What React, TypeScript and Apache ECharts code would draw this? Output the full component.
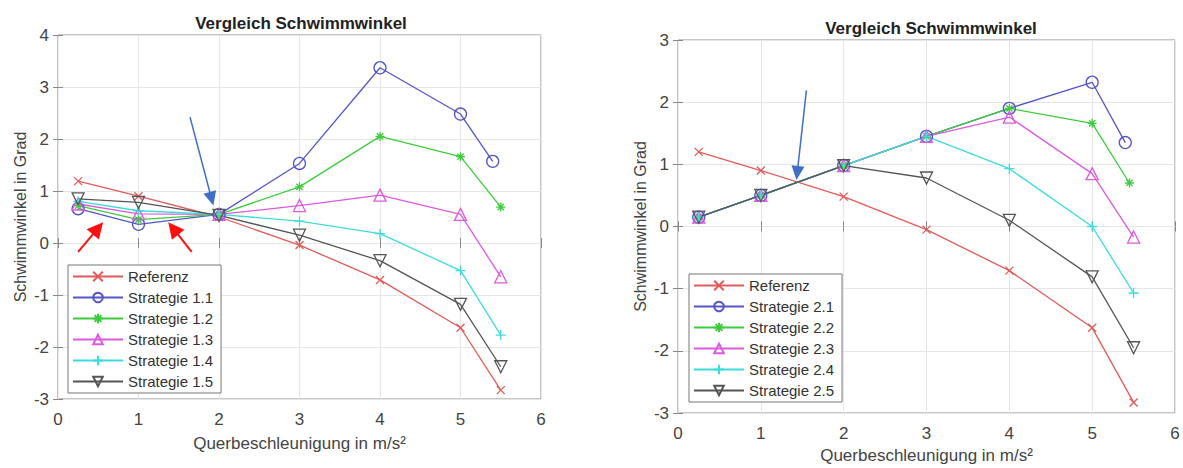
import React, { useEffect, useRef } from "react";
import * as echarts from "echarts";

// ---------- data ----------
const title = "Vergleich Schwimmwinkel";
const xName = "Querbeschleunigung in m/s²";
const yName = "Schwimmwinkel in Grad";

const xTicksLeft = { min: 0, max: 6, interval: 1 };
const yTicksLeft = { min: -3, max: 4, interval: 1 };
const xTicksRight = { min: 0, max: 6, interval: 1 };
const yTicksRight = { min: -3, max: 3, interval: 1 };

const xStd = [0.25, 1, 2, 3, 4, 5, 5.5];
const xS1 = [0.25, 1, 2, 3, 4, 5, 5.4];
const xS2 = [0.25, 1, 2, 3, 4, 5, 5.45];

const namesLeft = ["Referenz", "Strategie 1.1", "Strategie 1.2", "Strategie 1.3", "Strategie 1.4", "Strategie 1.5"];
const namesRight = ["Referenz", "Strategie 2.1", "Strategie 2.2", "Strategie 2.3", "Strategie 2.4", "Strategie 2.5"];

const ref1 = [1.19, 0.9, 0.5, -0.04, -0.71, -1.63, -2.83];
const s11 = [0.66, 0.36, 0.55, 1.53, 3.37, 2.48, 1.57];
const s12 = [0.72, 0.45, 0.55, 1.08, 2.05, 1.66, 0.69];
const s13 = [0.75, 0.56, 0.55, 0.72, 0.92, 0.55, -0.65];
const s14 = [0.8, 0.62, 0.55, 0.42, 0.18, -0.53, -1.77];
const s15 = [0.85, 0.78, 0.53, 0.15, -0.34, -1.18, -2.38];

const ref2 = [1.2, 0.9, 0.48, -0.05, -0.71, -1.63, -2.83];
const s21 = [0.15, 0.5, 0.98, 1.45, 1.9, 2.32, 1.35];
const s22 = [0.15, 0.5, 0.98, 1.45, 1.9, 1.66, 0.7];
const s23 = [0.15, 0.5, 0.98, 1.45, 1.76, 0.85, -0.17];
const s24 = [0.15, 0.5, 0.98, 1.45, 0.93, 0.0, -1.07];
const s25 = [0.15, 0.5, 0.98, 0.78, 0.1, -0.81, -1.95];

// annotation arrows in data coordinates: [startX, startY, tipX, tipY]
const arrowsLeftBlue = [[1.64, 2.42, 1.93, 0.72]];
const arrowsLeftRed = [
  [0.25, -0.17, 0.56, 0.4],
  [1.66, -0.17, 1.37, 0.4],
];
const arrowsRightBlue = [[1.55, 2.19, 1.43, 0.75]];

// ---------- styles ----------
const FONT = "Liberation Sans, Arial, sans-serif";
const colors = ["#e25a5a", "#5555c8", "#3ccc3c", "#dc5adc", "#3cdcdc", "#555555"];
const symbols = [
  "path://M0,0L1,1M1,0L0,1",
  "circle",
  "path://M0.5,0L0.5,1M0,0.5L1,0.5M0.15,0.15L0.85,0.85M0.85,0.15L0.15,0.85",
  "triangle",
  "path://M0.5,0L0.5,1M0,0.5L1,0.5",
  "path://M0,0L1,0L0.5,1Z",
];
const symbolSizes = [8, 12, 9, 12, 10, 12];

function zip(xs: number[], ys: number[]) {
  return xs.map((x, i) => [x, ys[i]]);
}

function makeSeries(name: string, idx: number, data: number[][], grid: number) {
  return {
    type: "line",
    name,
    xAxisIndex: grid * 2,
    yAxisIndex: grid * 2,
    data,
    symbol: symbols[idx],
    symbolSize: symbolSizes[idx],
    showAllSymbol: true,
    lineStyle: { color: colors[idx], width: 1.3 },
    itemStyle: {
      color: idx === 2 ? colors[idx] : "rgba(0,0,0,0)",
      borderColor: colors[idx],
      borderWidth: 1.3,
    },
    emphasis: { disabled: true },
    z: 3,
  };
}

function axesFor(gridIndex: number, xr: any, yr: any) {
  const axisLabel = { fontFamily: FONT, fontSize: 17, color: "#444" };
  const tick = { show: true, inside: true, length: 5, lineStyle: { color: "#888" } };
  const xAxes = [
    {
      type: "value",
      gridIndex,
      ...xr,
      position: "bottom",
      name: xName,
      nameLocation: "middle",
      nameGap: gridIndex === 0 ? 36 : 34,
      nameTextStyle: { fontFamily: FONT, fontSize: 17, color: "#444" },
      axisLine: { show: false },
      axisTick: tick,
      axisLabel: { ...axisLabel, margin: 12 },
      splitLine: { show: true, lineStyle: { color: "#e6e6e6", width: 1 } },
    },
    {
      type: "value",
      gridIndex,
      ...xr,
      position: "top",
      axisLine: { show: false },
      axisTick: tick,
      axisLabel: { show: false },
      splitLine: { show: false },
    },
  ];
  const yAxes = [
    {
      type: "value",
      gridIndex,
      ...yr,
      position: "left",
      name: yName,
      nameLocation: "middle",
      nameGap: 30,
      nameTextStyle: { fontFamily: FONT, fontSize: 16, color: "#444" },
      axisLine: { show: false },
      axisTick: tick,
      axisLabel: { ...axisLabel, margin: 9 },
      splitLine: { show: true, lineStyle: { color: "#e6e6e6", width: 1 } },
    },
    {
      type: "value",
      gridIndex,
      ...yr,
      position: "right",
      axisLine: { show: false },
      axisTick: tick,
      axisLabel: { show: false },
      splitLine: { show: false },
    },
  ];
  return { xAxes, yAxes };
}

function arrowGraphics(chart: any, grid: number, arrows: number[][], color: string, lw: number, headL: number, headW: number) {
  const out: any[] = [];
  arrows.forEach(([sx, sy, tx, ty]) => {
    const s = chart.convertToPixel({ gridIndex: grid }, [sx, sy]);
    const t = chart.convertToPixel({ gridIndex: grid }, [tx, ty]);
    const dx = t[0] - s[0];
    const dy = t[1] - s[1];
    const len = Math.sqrt(dx * dx + dy * dy);
    const ux = dx / len;
    const uy = dy / len;
    const bx = t[0] - ux * headL;
    const by = t[1] - uy * headL;
    const nx = -uy;
    const ny = ux;
    out.push({
      type: "line",
      shape: { x1: s[0], y1: s[1], x2: bx + ux * 2, y2: by + uy * 2 },
      style: { stroke: color, lineWidth: lw },
      z: 10,
    });
    out.push({
      type: "polygon",
      shape: {
        points: [
          [t[0], t[1]],
          [bx + (nx * headW) / 2, by + (ny * headW) / 2],
          [bx - (nx * headW) / 2, by - (ny * headW) / 2],
        ],
      },
      style: { fill: color },
      z: 10,
    });
  });
  return out;
}

export default function App() {
  const ref = useRef<HTMLDivElement>(null);
  useEffect(() => {
    if (!ref.current) return;
    const chart = echarts.init(ref.current, undefined, { renderer: "svg" });
    const a0 = axesFor(0, xTicksLeft, yTicksLeft);
    const a1 = axesFor(1, xTicksRight, yTicksRight);

    const leftData = [zip(xStd, ref1), zip(xS1, s11), zip(xStd, s12), zip(xStd, s13), zip(xStd, s14), zip(xStd, s15)];
    const rightData = [zip(xStd, ref2), zip(xS1, s21), zip(xS2, s22), zip(xStd, s23), zip(xStd, s24), zip(xStd, s25)];

    const series: any[] = [];
    leftData.forEach((d, i) => series.push(makeSeries(namesLeft[i], i, d, 0)));
    rightData.forEach((d, i) => series.push(makeSeries(namesRight[i], i, d, 1)));

    const legendBase = {
      orient: "vertical",
      itemWidth: 50,
      itemHeight: 12,
      itemGap: 6,
      padding: [4, 8, 4, 4],
      borderColor: "#777",
      borderWidth: 1,
      borderRadius: 0,
      backgroundColor: "#fff",
      selectedMode: false,
      textStyle: { fontFamily: FONT, fontSize: 15, color: "#333" },
      z: 5,
    };

    chart.setOption({
      animation: false,
      backgroundColor: "#fff",
      title: [
        {
          text: title,
          left: 296,
          top: 10,
          textAlign: "center",
          textStyle: { fontFamily: FONT, fontSize: 17, fontWeight: "bold", color: "#222" },
        },
        {
          text: title,
          left: 926,
          top: 15,
          textAlign: "center",
          textStyle: { fontFamily: FONT, fontSize: 17, fontWeight: "bold", color: "#222" },
        },
      ],
      grid: [
        { left: 58, top: 35, width: 483, height: 364, show: true, borderColor: "#8a8a8a", borderWidth: 1, backgroundColor: "#fff", outerBoundsMode: "none", containLabel: false },
        { left: 678, top: 40, width: 497, height: 373, show: true, borderColor: "#8a8a8a", borderWidth: 1, backgroundColor: "#fff", outerBoundsMode: "none", containLabel: false },
      ],
      legend: [
        { ...legendBase, left: 68, top: 265, data: namesLeft },
        { ...legendBase, left: 689, top: 274, data: namesRight },
      ],
      xAxis: [...a0.xAxes, ...a1.xAxes],
      yAxis: [...a0.yAxes, ...a1.yAxes],
      series,
    });

    const graphics = [
      ...arrowGraphics(chart, 0, arrowsLeftBlue, "#3f6fc6", 1.5, 14, 13),
      ...arrowGraphics(chart, 0, arrowsLeftRed, "#ff1010", 2, 16, 16),
      ...arrowGraphics(chart, 1, arrowsRightBlue, "#3f6fc6", 1.5, 14, 13),
    ];
    chart.setOption({ graphic: graphics });

    return () => chart.dispose();
  }, []);
  return (
    <div
      ref={ref}
      style={{ position: "fixed", left: 0, top: 0, width: 1183, height: 468, background: "#fff" }}
    />
  );
}
